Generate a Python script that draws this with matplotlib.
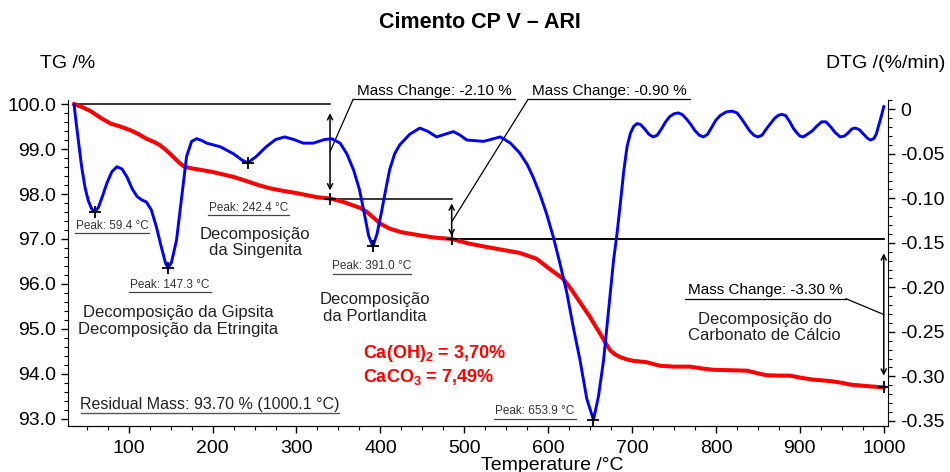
import matplotlib
matplotlib.use("Agg")
import matplotlib.pyplot as plt
from matplotlib.ticker import MultipleLocator, FormatStrFormatter

plt.rcParams['font.family'] = ['Liberation Sans', 'DejaVu Sans']
plt.rcParams['mathtext.fontset'] = 'custom'
plt.rcParams['mathtext.rm'] = 'Liberation Sans'
plt.rcParams['mathtext.bf'] = 'Liberation Sans:bold'

# TG curve (temperature in °C, mass in %)
tg_temp = [35, 45, 55, 66, 78, 90, 102, 112, 121, 130, 137, 145, 153, 160, 166, 175,
           185, 200, 225, 240, 256, 270, 284, 300, 324, 340, 355, 367, 376, 384, 392,
           400, 411, 425, 447, 465, 485, 505, 527, 548, 566, 586, 602, 610, 618, 626,
           634, 642, 650, 656, 662, 668, 674, 680, 686, 694, 701, 717, 733, 750, 769,
           783, 797, 817, 837, 850, 860, 875, 888, 902, 916, 930, 940, 950, 960, 972,
           984, 1000]
tg_mass = [100.0, 99.93, 99.84, 99.70, 99.57, 99.50, 99.42, 99.33, 99.23, 99.16, 99.09,
           98.97, 98.83, 98.70, 98.61, 98.57, 98.54, 98.49, 98.38, 98.29, 98.19, 98.12,
           98.07, 98.02, 97.93, 97.90, 97.83, 97.75, 97.69, 97.60, 97.47, 97.34, 97.23,
           97.15, 97.08, 97.03, 97.00, 96.90, 96.82, 96.75, 96.69, 96.56, 96.33, 96.22,
           96.11, 95.92, 95.70, 95.48, 95.26, 95.07, 94.89, 94.70, 94.52, 94.43, 94.37,
           94.32, 94.29, 94.26, 94.18, 94.16, 94.16, 94.12, 94.09, 94.08, 94.07, 94.01,
           93.97, 93.96, 93.96, 93.91, 93.87, 93.85, 93.83, 93.80, 93.76, 93.74, 93.72,
           93.70]

# DTG curve (%/min)
dtg_temp = [35, 37, 40, 44, 48, 52, 56, 60, 64, 69,
            74, 80, 86, 92, 98, 104, 110, 116, 121, 127,
            133, 139, 144, 147, 151, 157, 163, 169, 175, 181,
            187, 193, 209, 225, 235, 242, 252, 264, 275, 286,
            297, 308, 320, 333, 342, 352, 360, 368, 375, 380,
            386, 391, 396, 401, 406, 411, 417, 423, 435, 447,
            457, 467, 477, 487, 495, 503, 523, 535, 543, 555,
            566, 575, 582, 590, 598, 606, 614, 622, 630, 638,
            646, 654, 660, 666, 672, 678, 682, 686, 690, 694,
            698, 702, 706, 710, 715, 720, 725, 730, 735, 740,
            745, 750, 755, 760, 765, 770, 775, 780, 785, 790,
            795, 800, 805, 812, 819, 825, 830, 835, 840, 845,
            850, 855, 860, 865, 870, 874, 878, 883, 888, 892,
            896, 900, 904, 909, 915, 920, 926, 931, 937, 942,
            948, 953, 957, 962, 966, 971, 975, 980, 984, 988,
            991, 994, 997, 1000]
dtg_rate = [0.005, -0.012, -0.035, -0.065, -0.088, -0.103, -0.112, -0.115, -0.110, -0.097,
            -0.083, -0.070, -0.0645, -0.067, -0.076, -0.089, -0.098, -0.102, -0.104, -0.113,
            -0.132, -0.155, -0.173, -0.178, -0.172, -0.147, -0.100, -0.053, -0.036, -0.033,
            -0.035, -0.038, -0.042, -0.050, -0.057, -0.060, -0.053, -0.042, -0.034, -0.031,
            -0.034, -0.038, -0.038, -0.034, -0.033, -0.038, -0.050, -0.068, -0.090, -0.113,
            -0.142, -0.154, -0.140, -0.117, -0.092, -0.068, -0.050, -0.040, -0.028, -0.021,
            -0.025, -0.031, -0.028, -0.025, -0.029, -0.0345, -0.036, -0.033, -0.031, -0.038,
            -0.049, -0.062, -0.076, -0.095, -0.117, -0.143, -0.173, -0.205, -0.245, -0.282,
            -0.325, -0.349, -0.322, -0.282, -0.225, -0.169, -0.140, -0.106, -0.070, -0.042,
            -0.027, -0.019, -0.016, -0.017, -0.022, -0.028, -0.031, -0.029, -0.022, -0.014,
            -0.008, -0.005, -0.004, -0.006, -0.011, -0.017, -0.024, -0.029, -0.031, -0.028,
            -0.020, -0.012, -0.007, -0.003, -0.002, -0.004, -0.010, -0.017, -0.024, -0.029,
            -0.031, -0.029, -0.022, -0.016, -0.010, -0.007, -0.0056, -0.007, -0.014, -0.021,
            -0.026, -0.030, -0.031, -0.028, -0.024, -0.019, -0.014, -0.014, -0.020, -0.026,
            -0.031, -0.030, -0.027, -0.022, -0.021, -0.023, -0.027, -0.032, -0.0345, -0.033,
            -0.028, -0.018, -0.008, 0.003]

# DTG peaks
peak_temp = [59.4, 147.3, 242.4, 391.0, 653.9]
peak_rate = [-0.115, -0.178, -0.060, -0.154, -0.349]

# mass change steps: start temp, end temp, start level, change
step_t0 = [35, 340, 485]
step_t1 = [340, 485, 1000]
step_start = [100.0, 97.90, 97.00]
step_change = [-2.10, -0.90, -3.30]
residual_mass = 93.70

fig = plt.figure(figsize=(9.5, 4.72), dpi=100)
ax = fig.add_axes([0.0716, 0.0975, 0.8631, 0.6905])
ax2 = ax.twinx()

ax.plot(tg_temp, tg_mass, color='#ff0000', lw=2.9, zorder=3)
ax2.plot(dtg_temp, dtg_rate, color='#0000ff', lw=2.1, zorder=3)
ax2.plot(peak_temp, peak_rate, ls='none', marker='+', color='black', ms=8, mew=1.3,
         zorder=5)

ax.set_xlim(27.7, 1005)
ax.set_ylim(92.84, 100.09)
ax2.set_ylim(-0.3557, 0.0104)

ax.xaxis.set_major_locator(MultipleLocator(100))
ax.xaxis.set_minor_locator(MultipleLocator(25))
ax.yaxis.set_major_locator(MultipleLocator(1.0))
ax.yaxis.set_minor_locator(MultipleLocator(0.2))
ax.yaxis.set_major_formatter(FormatStrFormatter('%.1f'))
ax2.yaxis.set_major_locator(MultipleLocator(0.05))
ax2.yaxis.set_minor_locator(MultipleLocator(0.01))
ax2.yaxis.set_major_formatter(lambda v, p: '0' if abs(v) < 1e-9 else '%.2f' % v)

for a in (ax, ax2):
    a.spines['top'].set_visible(False)
    a.tick_params(which='major', length=5, width=1, labelsize=14, direction='out')
    a.tick_params(which='minor', length=3, width=0.8, direction='out')
ax2.spines['left'].set_visible(False)
ax.spines['right'].set_visible(False)
ax.tick_params(axis='x', pad=5)

# mass change construction lines
lw_ann = 1.1
for i in range(3):
    top = step_start[i]
    bot = top + step_change[i]
    ax.plot([step_t0[i], step_t1[i]], [top, top], color='black', lw=lw_ann, zorder=2)
    ax.plot([step_t1[i]], [bot], marker='+', color='black', ms=9, mew=1.3, zorder=6)
ax.plot([485, 1000], [97.0, 97.0], color='black', lw=lw_ann, zorder=2)

arrow_y = [(99.80, 98.08), (97.79, 97.06), (96.68, 93.96)]
for t, (y0, y1) in zip(step_t1, arrow_y):
    ax.annotate('', xy=(t, y1), xytext=(t, y0),
                arrowprops=dict(arrowstyle='<->', color='black', lw=1.1,
                                mutation_scale=9, shrinkA=0, shrinkB=0))

# leader labels
labels = ['Mass Change: %.2f %%' % c for c in step_change]
label_line = [(367.5, 560.4, 100.105), (576, 769, 100.105), (763, 955, 95.67)]
label_tip = [(340, 98.94), (485, 97.38), (1000, 95.32)]
for i, txt in enumerate(labels):
    x0, x1, yl = label_line[i]
    tx, ty = label_tip[i]
    ax.plot([x0, x1], [yl, yl], color='black', lw=0.9, clip_on=False, zorder=6)
    if i < 2:
        ax.plot([x0, tx], [yl, ty], color='black', lw=0.9, clip_on=False, zorder=6)
    else:
        ax.plot([x1, tx], [yl, ty], color='black', lw=0.9, clip_on=False, zorder=6)
    ax.text((x0 + x1) / 2, yl + 0.04, txt, ha='center', va='bottom', fontsize=11,
            zorder=6)

# peak labels
peak_boxes = [(36, 124, 97.13), (100, 198, 95.82), (194.5, 291, 97.53),
              (343.6, 436.5, 96.23), (535, 633, 93.0)]
for t, (x0, x1, yl) in zip(peak_temp, peak_boxes):
    ax.plot([x0, x1], [yl, yl], color='#444444', lw=0.9, zorder=6)
    ax.text((x0 + x1) / 2, yl + 0.03, 'Peak: %.1f °C' % t, ha='center', va='bottom',
            fontsize=8.5, color='#333333', zorder=6)

ax.plot([42.8, 350.6], [93.12, 93.12], color='#555555', lw=1.0, zorder=6)
ax.text(196.7, 93.15, 'Residual Mass: %.2f %% (1000.1 °C)' % residual_mass,
        ha='center', va='bottom', fontsize=11.5, color='#222222', zorder=6)

# phase notes
notes = [(251, 96.92, 'Decomposição\nda Singenita'),
         (159, 95.17, 'Decomposição da Gipsita\nDecomposição da Etringita'),
         (393.5, 95.47, 'Decomposição\nda Portlandita'),
         (858, 95.03, 'Decomposição do\nCarbonato de Cálcio')]
for x, y, txt in notes:
    ax.text(x, y, txt, ha='center', va='center', fontsize=12, linespacing=1.15,
            color='#222222')

ax.text(379, 94.45, r'Ca(OH)$_\mathbf{2}$ = 3,70%', ha='left', va='center',
        fontsize=13, fontweight='bold', color='#ff0000')
ax.text(379, 93.94, r'CaCO$_\mathbf{3}$ = 7,49%', ha='left', va='center',
        fontsize=13, fontweight='bold', color='#ff0000')

fig.text(0.505, 0.953, 'Cimento CP V – ARI', ha='center', va='center', fontsize=15.5,
         fontweight='bold')
fig.text(0.042, 0.866, 'TG /%', ha='left', va='center', fontsize=14)
fig.text(0.995, 0.866, 'DTG /(%/min)', ha='right', va='center', fontsize=14)
fig.text(0.581, 0.014, 'Temperature /°C', ha='center', va='center', fontsize=14)

fig.savefig('out.png', dpi=100)
